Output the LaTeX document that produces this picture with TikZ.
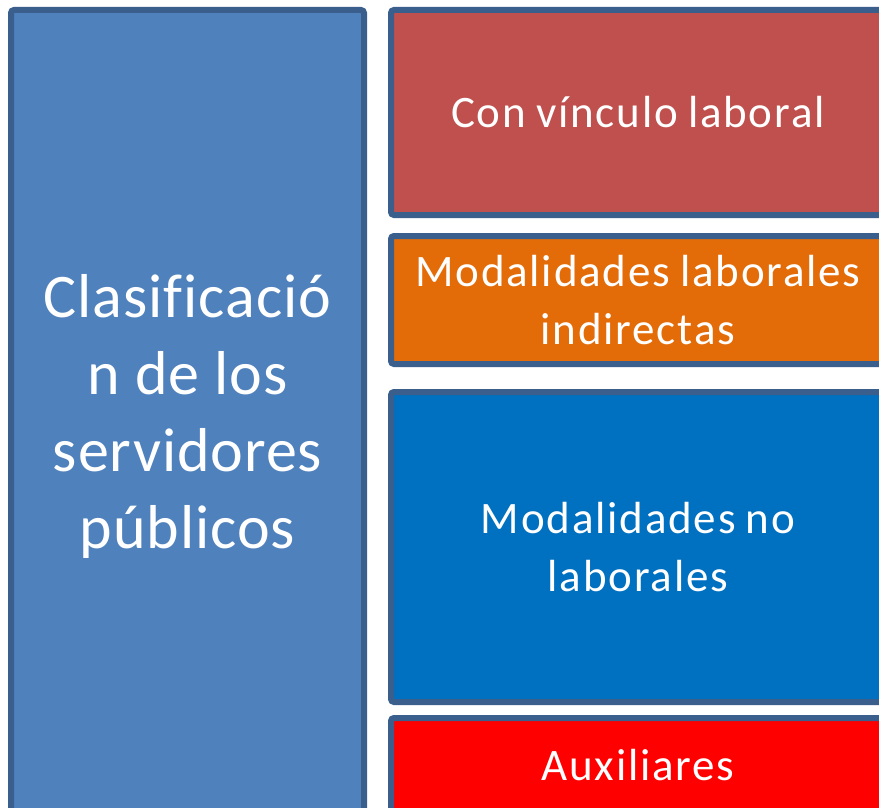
\documentclass[tikz,border=0pt]{standalone}
\usepackage{fontspec}
\setmainfont{Carlito}
\newfontfamily\rfont[LetterSpace=4, WordSpace=0.85, Ligatures=NoCommon]{Carlito}
\newfontfamily\lfont[LetterSpace=1.5, Ligatures=NoCommon]{Carlito}
\definecolor{bordc}{HTML}{3A5F8D}
\definecolor{lblue}{HTML}{4F81BD}
\definecolor{cred}{HTML}{C0504D}
\definecolor{corange}{HTML}{E36C09}
\definecolor{cblue}{HTML}{0070C0}
\definecolor{bred}{HTML}{FF0000}
\tikzset{
  box/.style={draw=bordc, line width=6pt, rounded corners=3pt},
  lbl/.style={text=white, align=center, font=\rfont\fontsize{45}{58}\selectfont},
  biglbl/.style={text=white, align=center, font=\lfont\fontsize{62}{77}\selectfont},
}
\begin{document}
\begin{tikzpicture}[x=1pt,y=-1pt]
\useasboundingbox (0,0) rectangle (879,808);
\clip (0,0) rectangle (879,808);
\fill[white] (0,0) rectangle (879,808);
\draw[box, fill=lblue] (11,10) rectangle (364,812);
\draw[box, fill=cred] (391,10) rectangle (886,215);
\draw[box, fill=corange] (391,236) rectangle (886,364);
\draw[box, fill=cblue] (391,392) rectangle (886,702);
\draw[box, fill=bred] (391,718) rectangle (886,818);
\node[biglbl] (left) at (187.5,416) {Clasificació\\n de los\\servidores\\públicos};
\node[lbl] (t1) at (638,112.5) {Con vínculo laboral};
\node[lbl] (t2) at (638,300) {Modalidades laborales\\indirectas};
\node[lbl] (t3) at (638,547) {Modalidades no\\laborales};
\node[lbl] (t4) at (638,765) {Auxiliares};
\end{tikzpicture}
\end{document}
